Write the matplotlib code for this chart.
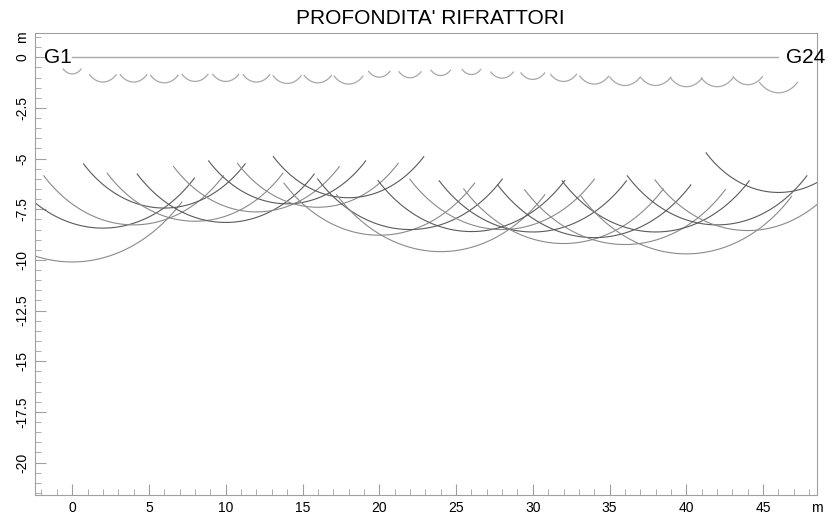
import matplotlib
matplotlib.use("Agg")

import numpy as np
import matplotlib.pyplot as plt
from matplotlib.ticker import MultipleLocator

plt.rcParams['font.family'] = ['Liberation Sans', 'DejaVu Sans']

# posizione geofoni (m)
geofoni = [0, 2, 4, 6, 8, 10, 12, 14, 16, 18, 20, 22,
           24, 26, 28, 30, 32, 34, 36, 38, 40, 42, 44, 46]

# profondita' primo rifrattore (m)
prof1 = [0.82, 1.22, 1.22, 1.26, 1.19, 1.19, 1.22, 1.29, 1.26, 1.32, 0.98, 1.01,
         0.90, 0.85, 1.03, 1.09, 1.19, 1.32, 1.39, 1.39, 1.45, 1.45, 1.35, 1.75]

# profondita' secondo rifrattore (m)
prof2 = [10.1, 8.43, 8.27, 7.44, 8.09, 8.15, 7.63, 7.23, 7.40, 6.93, 8.78, 8.50,
         9.59, 8.60, 8.50, 8.62, 9.19, 8.90, 9.24, 8.62, 9.70, 8.27, 8.55, 6.67]

yticks = [0, -2.5, -5, -7.5, -10, -12.5, -15, -17.5, -20]
ylabels = ['0', '-2.5', '-5', '-7.5', '-10', '-12.5', '-15', '-17.5', '-20']
xticks = [0, 5, 10, 15, 20, 25, 30, 35, 40, 45]

fig = plt.figure(figsize=(8.38, 5.16), dpi=100)
ax = fig.add_axes([0.0418, 0.0407, 0.933, 0.895])

theta = np.radians(np.linspace(-135, -45, 60))
for xc, r in zip(geofoni, prof1):
    ax.plot(xc + r * np.cos(theta), r * np.sin(theta), color='#a8a8a8', lw=0.9)
for i, (xc, r) in enumerate(zip(geofoni, prof2)):
    col = '#5a5a5a' if i % 2 else '#8a8a8a'
    ax.plot(xc + r * np.cos(theta), r * np.sin(theta), color=col, lw=0.8)

# linea di superficie
ax.plot([geofoni[0], geofoni[-1]], [0, 0], color='#a8a8a8', lw=1.0)
ax.text(geofoni[0], 0, 'G1', ha='right', va='center', fontsize=15)
ax.text(geofoni[-1] + 0.5, 0, 'G24', ha='left', va='center', fontsize=15)

ax.set_xlim(-2.42, 48.5)
ax.set_ylim(-21.6, 1.19)

ax.set_xticks(xticks)
ax.set_yticks(yticks)
ax.set_yticklabels(ylabels, rotation=90, va='center')
ax.xaxis.set_minor_locator(MultipleLocator(1))
ax.yaxis.set_minor_locator(MultipleLocator(0.5))
ax.tick_params(which='major', direction='in', length=8, color='#a0a0a0',
               labelsize=10, pad=4)
ax.tick_params(which='minor', direction='in', length=4, color='#a0a0a0')
for s in ax.spines.values():
    s.set_color('#a0a0a0')

# unita' di misura sugli assi
ax.annotate('m', xy=(48.5, 0), xycoords=('data', 'axes fraction'),
            xytext=(0, -4), textcoords='offset points',
            ha='center', va='top', fontsize=10)
ax.annotate('m', xy=(0, 1.0), xycoords=('axes fraction', 'data'),
            xytext=(-4, 0), textcoords='offset points',
            ha='right', va='center', rotation=90, fontsize=10)

fig.text(0.513, 0.965, "PROFONDITA' RIFRATTORI", ha='center', va='center',
         fontsize=15)

fig.savefig('out.png', dpi=100)
